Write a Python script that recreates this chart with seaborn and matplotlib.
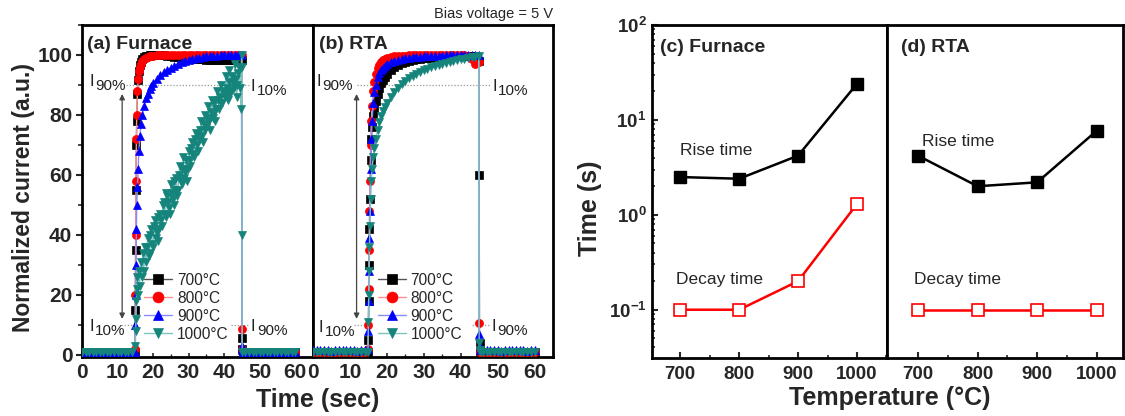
import matplotlib
matplotlib.use("Agg")
import matplotlib.pyplot as plt
import seaborn as sns
import numpy as np
from matplotlib.ticker import MultipleLocator, LogLocator, NullFormatter

# ---------------- data: transient photocurrent (panels a, b) ----------------
t_ab = [0, 1, 2, 3, 4, 5, 6, 7, 8, 9, 10, 11, 12, 13, 14,
        14.9, 15.0, 15.1, 15.2, 15.3, 15.4, 15.6, 15.8, 16.0, 16.3, 16.6, 17.0, 17.5, 18.0, 18.5, 19.0, 19.5, 20.0,
        21, 22, 23, 24, 25, 26, 27, 28, 29, 30, 31, 32, 33, 34, 35, 36, 37, 38, 39, 40, 41, 42, 43, 44, 44.9,
        45.0, 45.1, 45.3, 46, 47, 48, 49, 50, 51, 52, 53, 54, 55, 56, 57, 58, 59, 60]

base_1 = [1.0, 1.0, 1.1, 1.0, 0.9, 1.0, 1.0, 1.1, 1.0, 1.0, 0.9, 1.0, 1.0, 1.0, 1.0]
tail_1 = [1.0, 1.0, 1.1, 1.0, 1.0, 0.9, 1.0, 1.0, 1.0, 1.1, 1.0, 1.0, 1.0, 1.0, 1.0]
base_15 = [1.5, 1.5, 1.6, 1.5, 1.5, 1.4, 1.5, 1.5, 1.6, 1.5, 1.5, 1.5, 1.4, 1.5, 1.5]

furn_700 = base_1 + [1.0, 15, 35, 55, 70, 78, 87, 91.5, 94.5, 96.5, 97.8, 98.7, 99.3, 99.6, 99.8, 99.9, 100, 100] \
    + [100, 100, 100, 99.8, 99.6, 99.4, 99.2, 99.0, 98.9, 98.8, 98.7, 98.6, 98.5, 98.5, 98.4, 98.4, 98.3,
       98.3, 98.3, 98.3, 98.2, 98.2, 98.2, 98.2, 98.2] \
    + [5.5, 2.0, 1.0] + tail_1
furn_800 = base_1 + [2.0, 20, 40, 58, 72, 80, 88, 92, 94.5, 96, 97, 98, 98.6, 99, 99.3, 99.5, 99.6, 99.7] \
    + [99.9, 100, 100, 100, 100, 100, 100, 100, 100, 100, 100, 100, 100, 100, 100, 100, 100, 100, 100, 100,
       100, 100, 100, 100, 100] \
    + [8.5, 2.0, 1.0] + tail_1
furn_900 = base_1 + [1.0, 10, 20, 30, 42, 50, 56, 62, 68, 73, 77, 80, 83, 85.5, 87, 88.5, 89.5, 90.5] \
    + [92, 93.2, 94.2, 95, 95.8, 96.4, 97, 97.5, 97.9, 98.3, 98.6, 98.9, 99.1, 99.3, 99.5, 99.6, 99.7, 99.8,
       100, 100, 100, 100, 100, 100, 100] \
    + [3.0, 1.5, 1.0] + tail_1

# 1000 C furnace sample: (time, current) read point by point
furn_1000_pts = [
    (0, 1.0), (1, 1.0), (2, 1.1), (3, 1.0), (4, 0.9), (5, 1.0), (6, 1.0), (7, 1.1), (8, 1.0), (9, 1.0),
    (10, 0.9), (11, 1.0), (12, 1.0), (13, 1.0), (14, 1.0),
    (15.0, 3), (15.1, 8), (15.2, 12), (15.3, 18), (15.4, 22), (15.5, 26), (15.7, 20), (15.9, 28),
    (16.2, 23), (16.5, 31), (16.8, 26), (17.1, 34), (17.4, 28), (17.7, 36),
    (18.0, 31), (18.25, 36), (18.5, 39), (18.75, 33), (19.0, 34), (19.25, 40), (19.5, 42), (19.75, 37),
    (20.0, 36), (20.25, 43), (20.5, 45), (20.75, 39), (21.0, 41), (21.25, 46), (21.5, 38), (21.75, 42),
    (22.0, 47), (22.25, 45), (22.5, 43), (22.75, 50), (23.0, 51), (23.25, 47), (23.5, 46), (23.75, 54),
    (24.0, 53), (24.25, 51), (24.5, 49), (24.75, 47), (25.0, 57), (25.25, 54), (25.5, 52), (25.75, 58),
    (26.0, 50), (26.25, 55), (26.5, 59), (26.75, 53), (27.0, 55), (27.25, 60), (27.5, 63), (27.75, 58),
    (28.0, 57), (28.25, 62), (28.5, 66), (28.75, 59), (29.0, 61), (29.25, 65), (29.5, 58), (29.75, 62),
    (30.0, 68), (30.25, 65), (30.5, 63), (30.75, 69), (31.0, 71), (31.25, 67), (31.5, 66), (31.75, 72),
    (32.0, 74), (32.25, 70), (32.5, 68), (32.75, 73), (33.0, 72), (33.25, 75), (33.5, 78), (33.75, 73),
    (34.0, 71), (34.25, 77), (34.5, 80), (34.75, 75), (35.0, 76), (35.25, 79), (35.5, 83), (35.75, 78),
    (36.0, 75), (36.25, 81), (36.5, 85), (36.75, 79), (37.0, 80), (37.25, 84), (37.5, 78), (37.75, 82),
    (38.0, 88), (38.25, 85), (38.5, 82), (38.75, 86), (39.0, 90), (39.25, 84), (39.5, 84), (39.75, 88),
    (40.0, 87), (40.25, 86), (40.5, 93), (40.75, 89), (41.0, 85), (41.25, 91), (41.5, 95), (41.75, 87),
    (42.0, 88), (42.25, 93), (42.5, 91), (42.75, 89), (43.0, 97), (43.25, 92), (43.5, 86), (43.75, 90),
    (44.0, 94), (44.25, 96), (44.5, 89),
    (44.8, 82), (44.9, 100), (45.0, 96), (45.05, 40), (45.1, 1.0),
    (46, 1.0), (47, 1.0), (48, 1.1), (49, 1.0), (50, 1.0), (51, 0.9), (52, 1.0), (53, 1.0), (54, 1.0),
    (55, 1.1), (56, 1.0), (57, 1.0), (58, 1.0), (59, 1.0), (60, 1.0)]
t_a_1000 = [p[0] for p in furn_1000_pts]
furn_1000 = [p[1] for p in furn_1000_pts]

rta_700 = base_1 + [1.0, 5, 18, 30, 42, 52, 65, 72, 76, 79.5, 82, 84.5, 87, 89, 90.5, 91.8, 92.8, 93.7] \
    + [95, 96, 96.7, 97.3, 97.7, 98, 98.3, 98.5, 98.7, 98.9, 99, 99.1, 99.2, 99.3, 99.3, 99.4, 99.4, 99.5,
       99.5, 99.5, 99.5, 99.5, 99.5, 99.5, 98] \
    + [60, 4.0, 1.0] + tail_1
rta_800 = base_1 + [2.0, 10, 22, 35, 48, 58, 70, 78, 83, 88, 91, 93.5, 95.5, 96.8, 97.6, 98.2, 98.6, 99] \
    + [99.3, 99.5, 99.6, 99.7, 99.8, 99.9, 100, 100, 100, 100, 100, 100, 100, 100, 100, 100, 100, 100,
       100, 100, 100, 99.5, 98.5, 97, 97.5] \
    + [10.5, 2.0, 1.0] + tail_1
rta_900 = base_15 + [2.0, 8, 18, 28, 39, 48, 62, 72, 78, 84, 87.5, 90, 92.5, 94, 95, 95.8, 96.4, 97] \
    + [97.6, 98, 98.4, 98.7, 98.9, 99.1, 99.2, 99.3, 99.4, 99.5, 99.6, 99.7, 99.7, 99.8, 99.8, 99.9, 99.9,
       100, 100, 100, 100, 100, 100, 100, 100] \
    + [7.0, 3.0, 1.5] + base_15
rta_1000 = base_1 + [1.0, 11, 20, 28, 36, 43, 52, 58, 62, 66, 69, 72, 75, 77.5, 79.5, 81.2, 82.7, 84] \
    + [86, 87.7, 89.1, 90.3, 91.3, 92.2, 93, 93.7, 94.3, 94.9, 95.4, 95.9, 96.3, 96.7, 97.1, 97.4, 97.7,
       98, 98.3, 98.5, 98.8, 99, 99.2, 99.4, 99.6] \
    + [4.0, 1.5, 1.0] + tail_1

labels_T = ["700\u00b0C", "800\u00b0C", "900\u00b0C", "1000\u00b0C"]

# ---------------- data: rise / decay times (panels c, d) ----------------
temps = [700, 800, 900, 1000]
furn_rise = [2.5, 2.4, 4.2, 24.0]
furn_decay = [0.1, 0.1, 0.2, 1.3]
rta_rise = [4.2, 2.0, 2.2, 7.7]
rta_decay = [0.1, 0.1, 0.1, 0.1]

# ---------------- style ----------------
sns.set_theme(style="ticks")
plt.rcParams["font.family"] = ["Liberation Sans", "DejaVu Sans"]
plt.rcParams["mathtext.fontset"] = "custom"
plt.rcParams["mathtext.rm"] = "Liberation Sans"
plt.rcParams["mathtext.it"] = "Liberation Sans:italic"
plt.rcParams["mathtext.bf"] = "Liberation Sans:bold"
plt.rcParams["axes.linewidth"] = 2.0

W, H = 1125, 416
fig = plt.figure(figsize=(W / 100, H / 100), dpi=100)
fig.patch.set_facecolor("white")


def add_ax(x0, x1, y0, y1):
    return fig.add_axes([x0 / W, 1 - y1 / H, (x1 - x0) / W, (y1 - y0) / H])


ax_a = add_ax(82, 313, 25, 357)
ax_b = add_ax(313, 553, 25, 357)
ax_c = add_ax(652, 887, 25, 358)
ax_d = add_ax(887, 1123, 25, 358)

marker_cols = ["#000000", "#ff0000", "#0000ff", "#15857c"]
line_cols = ["#555555", "#ff9090", "#8a8aff", "#7cc4be"]
markers = ["s", "o", "^", "v"]

series_a = [(t_ab, furn_700), (t_ab, furn_800), (t_ab, furn_900), (t_a_1000, furn_1000)]
series_b = [(t_ab, rta_700), (t_ab, rta_800), (t_ab, rta_900), (t_ab, rta_1000)]

for ax, series in [(ax_a, series_a), (ax_b, series_b)]:
    for (t, y), mc, lc, mk, lab in zip(series, marker_cols, line_cols, markers, labels_T):
        sns.lineplot(x=t, y=y, ax=ax, sort=False, estimator=None, color=lc, lw=1.0,
                     marker=mk, markersize=5.8, markerfacecolor=mc, markeredgecolor=mc,
                     markeredgewidth=0.5, label=lab, zorder=3)
    ax.set_xlim(0, 65)
    ax.set_ylim(-0.7, 110)
    ax.set_xticks([0, 10, 20, 30, 40, 50, 60])
    ax.xaxis.set_minor_locator(MultipleLocator(5))
    ax.set_xlabel("")
    ax.set_ylabel("")
    ax.tick_params(axis="x", direction="in", length=3, width=1.2, labelsize=15, pad=4)
    ax.tick_params(axis="x", which="minor", direction="in", length=2, width=1)
    ax.legend(loc="center left", bbox_to_anchor=(0.27, 0.15), frameon=False, fontsize=11.2,
              handlelength=1.8, handletextpad=0.3, labelspacing=0.2, borderpad=0,
              borderaxespad=0, markerscale=1.35)
    for s in ax.spines.values():
        s.set_linewidth(2.0)
        s.set_color("black")

ax_a.set_yticks([0, 20, 40, 60, 80, 100])
ax_a.yaxis.set_minor_locator(MultipleLocator(10))
ax_a.tick_params(axis="y", direction="out", length=4, width=1.5, labelsize=15, pad=3)
ax_a.tick_params(axis="y", which="minor", direction="out", length=3, width=1.2)
ax_b.set_yticks([])
ax_b.tick_params(axis="y", which="both", left=False, labelleft=False)
ax_b.yaxis.set_minor_locator(plt.NullLocator())
ax_b.set_xticks([0, 10, 20, 30, 40, 50, 60])

for ax in (ax_a, ax_b):
    for lbl in ax.get_xticklabels() + ax.get_yticklabels():
        lbl.set_fontweight("bold")


def ilabel(ax, x, y, sub):
    ax.text(x, y, "I", fontsize=12, color="#222222", va="center", ha="left")
    ax.annotate(sub, xy=(x, y), xytext=(4.3, -3.2), textcoords="offset points",
                fontsize=11, color="#222222", va="center", ha="left")


# annotations for a, b
gray = "#444444"
for ax, xarr, lab_pos in [
    (ax_a, 11.3, dict(l90=(2.0, 91.0), r10=(47.5, 89.5), l10=(2.0, 9.5), r90=(47.5, 9.5),
                      dot90=(12.5, 47.0), dot10=[(11.0, 15.5), (42.0, 47.0)])),
    (ax_b, 11.8, dict(l90=(1.0, 91.0), r10=(48.5, 89.5), l10=(1.5, 9.0), r90=(48.3, 9.5),
                      dot90=(12.0, 48.0), dot10=[(11.0, 15.0), (43.0, 48.0)])),
]:
    ilabel(ax, *lab_pos["l90"], "90%")
    ilabel(ax, *lab_pos["r10"], "10%")
    ilabel(ax, *lab_pos["l10"], "10%")
    ilabel(ax, *lab_pos["r90"], "90%")
    x0, x1 = lab_pos["dot90"]
    ax.plot([x0, x1], [90, 90], ls=(0, (1, 1.5)), color="#999999", lw=0.9, zorder=1)
    for x0, x1 in lab_pos["dot10"]:
        ax.plot([x0, x1], [10, 10], ls=(0, (1, 1.5)), color="#999999", lw=0.9, zorder=1)
    ax.annotate("", xy=(xarr, 87), xytext=(xarr, 12),
                arrowprops=dict(arrowstyle="<|-|>", color=gray, lw=0.9,
                                mutation_scale=8, shrinkA=0, shrinkB=0), zorder=2)

ax_a.text(1.5, 103.5, "(a) Furnace", fontsize=14, fontweight="bold", va="center", ha="left")
ax_b.text(1.5, 103.5, "(b) RTA", fontsize=14, fontweight="bold", va="center", ha="left")

fig.text(553 / W, 1 - 14 / H, "Bias voltage = 5 V", fontsize=10.5, ha="right", va="center")
fig.text(24 / W, 1 - 198 / H, "Normalized current (a.u.)", fontsize=16.5, fontweight="bold",
         rotation=90, ha="center", va="center")
fig.text(318 / W, 1 - 400 / H, "Time (sec)", fontsize=18, fontweight="bold", ha="center", va="center")

# ---------------- panels c, d ----------------
for ax, rise, decay in [(ax_c, furn_rise, furn_decay), (ax_d, rta_rise, rta_decay)]:
    sns.lineplot(x=temps, y=rise, ax=ax, color="black", lw=1.8, marker="s", markersize=8.5,
                 markerfacecolor="black", markeredgecolor="black", markeredgewidth=1, zorder=3)
    sns.lineplot(x=temps, y=decay, ax=ax, color="#ff0000", lw=1.8, marker="s", markersize=8.5,
                 markerfacecolor="white", markeredgecolor="#ff0000", markeredgewidth=1.2, zorder=3)
    ax.set_yscale("log")
    ax.set_ylim(0.031, 100)
    ax.set_xticks(temps)
    ax.xaxis.set_minor_locator(MultipleLocator(50))
    ax.set_xlabel("")
    ax.set_ylabel("")
    ax.tick_params(axis="x", direction="in", length=4, width=1.5, labelsize=13.5, pad=6)
    ax.tick_params(axis="x", which="minor", direction="in", length=2.5, width=1.2)
    for s in ax.spines.values():
        s.set_linewidth(2.0)
        s.set_color("black")

ax_c.set_xlim(652, 1051)
ax_d.set_xlim(648, 1044)

ax_c.set_yticks([0.1, 1, 10, 100])
ax_c.set_yticklabels([r"$\mathbf{10^{-1}}$", r"$\mathbf{10^{0}}$", r"$\mathbf{10^{1}}$", r"$\mathbf{10^{2}}$"])
ax_c.yaxis.set_minor_locator(LogLocator(base=10, subs=np.arange(2, 10), numticks=20))
ax_c.yaxis.set_minor_formatter(NullFormatter())
ax_c.tick_params(axis="y", direction="in", length=4, width=1.5, labelsize=13.5, pad=4)
ax_c.tick_params(axis="y", which="minor", direction="in", length=2.5, width=1.2)
ax_d.tick_params(axis="y", which="both", left=False, labelleft=False)

for ax in (ax_c, ax_d):
    for lbl in ax.get_xticklabels():
        lbl.set_fontweight("bold")

ax_c.text(665, 58, "(c) Furnace", fontsize=14, fontweight="bold", va="center", ha="left")
ax_d.text(672, 58, "(d) RTA", fontsize=14, fontweight="bold", va="center", ha="left")
ax_c.text(700, 4.8, "Rise time", fontsize=12.5, va="center", ha="left")
ax_c.text(693, 0.21, "Decay time", fontsize=12.5, va="center", ha="left")
ax_d.text(706, 5.9, "Rise time", fontsize=12.5, va="center", ha="left")
ax_d.text(693, 0.207, "Decay time", fontsize=12.5, va="center", ha="left")

fig.text(590 / W, 1 - 208 / H, "Time (s)", fontsize=18, fontweight="bold", rotation=90,
         ha="center", va="center")
fig.text(890 / W, 1 - 398 / H, "Temperature (\u00b0C)", fontsize=18, fontweight="bold",
         ha="center", va="center")

fig.savefig("out.png", dpi=100, facecolor="white")
